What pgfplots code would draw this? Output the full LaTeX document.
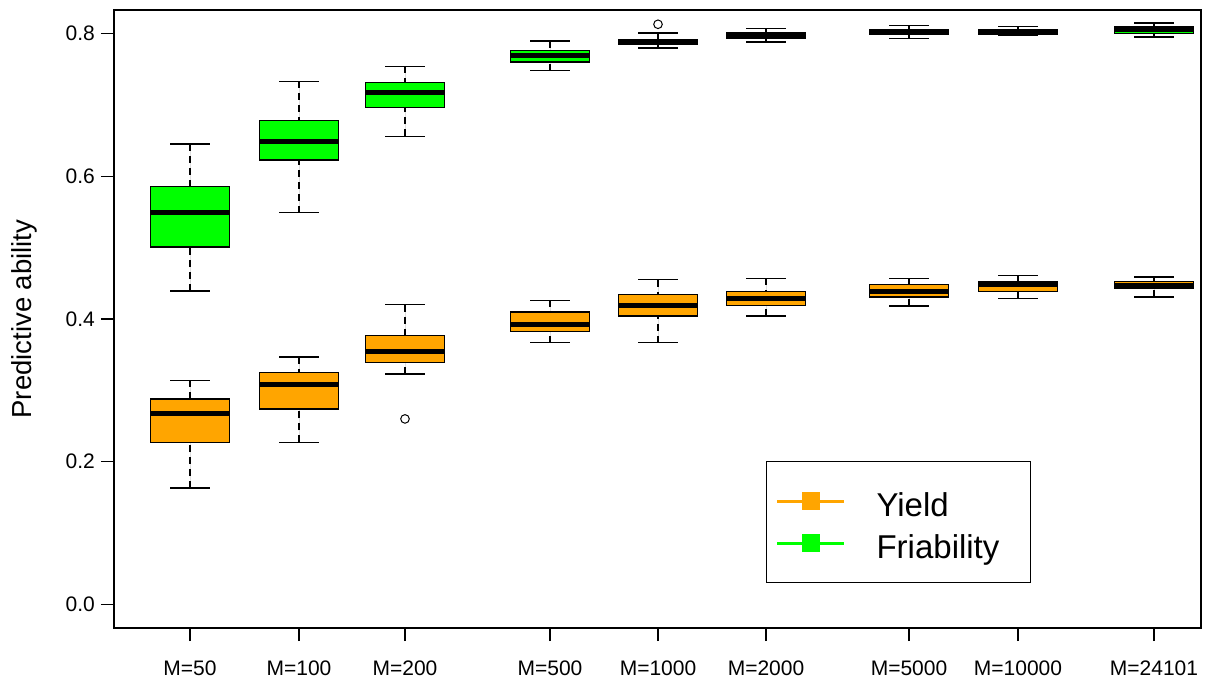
\documentclass[border=0pt]{standalone}
\usepackage{pgfplots}
\pgfplotsset{compat=1.18}
\usepgfplotslibrary{statistics}
\usepackage{fontspec}
\setmainfont{Liberation Sans}
\definecolor{rorange}{HTML}{FFA500}
\definecolor{rgreen}{HTML}{00FF00}
\pgfplotsset{
  boxplot/draw/lower whisker/.code={%
    \draw[black, line width=1.3bp, dash pattern=on 7bp off 5bp]
      (boxplot box cs:\pgfplotsboxplotvalue{lower whisker},0.5) --
      (boxplot box cs:\pgfplotsboxplotvalue{lower quartile},0.5);
    \draw[black, line width=1.4bp, solid]
      (boxplot whisker cs:\pgfplotsboxplotvalue{lower whisker},0) --
      (boxplot whisker cs:\pgfplotsboxplotvalue{lower whisker},1);
  },
  boxplot/draw/upper whisker/.code={%
    \draw[black, line width=1.3bp, dash pattern=on 7bp off 5bp]
      (boxplot box cs:\pgfplotsboxplotvalue{upper whisker},0.5) --
      (boxplot box cs:\pgfplotsboxplotvalue{upper quartile},0.5);
    \draw[black, line width=1.4bp, solid]
      (boxplot whisker cs:\pgfplotsboxplotvalue{upper whisker},0) --
      (boxplot whisker cs:\pgfplotsboxplotvalue{upper whisker},1);
  },
  rbox/.style={
    boxplot/draw direction=y,
    boxplot/box extend=0.79,
    boxplot/whisker extend=0.395,
    draw=black, line width=1.3bp, solid, fill=#1,
    mark=o, mark size=4.3bp, mark options={black, line width=1bp, solid, fill=none},
    forget plot,
    boxplot/every median/.style={line width=5bp, black},
  },
}
\begin{document}
\begin{tikzpicture}
\begin{axis}[
  name=ax,
  scale only axis, width=1087bp, height=618bp,
  xmin=1.14, xmax=12.01, ymin=-0.033, ymax=0.833,
  axis line style={line width=1.3bp, black},
  tick align=outside, tick pos=left,
  major tick length=13bp,
  every tick/.style={black, line width=1.3bp},
  xtick={1.90,2.99,4.05,5.50,6.58,7.66,9.09,10.18,11.54},
  xticklabels={M=50,M=100,M=200,M=500,M=1000,M=2000,M=5000,M=10000,M=24101},
  ytick={0,0.2,0.4,0.6,0.8},
  yticklabels={0.0,0.2,0.4,0.6,0.8},
  ticklabel style={font=\fontsize{21bp}{25bp}\selectfont, inner sep=0pt},
  xticklabel style={anchor=north, yshift=-20bp},
  yticklabel style={anchor=east, xshift=-6bp},
  ylabel={Predictive ability},
  every axis y label/.style={at={(rel axis cs:0,0.5)}, xshift=-82bp, rotate=90, anchor=base, inner sep=0pt, font=\fontsize{27.5bp}{32bp}\selectfont},
  legend image code/.code={\draw[mark repeat=2, mark phase=2, #1] plot coordinates {(0bp,0bp) (33.5bp,0bp) (67bp,0bp)};},
  legend cell align=left,
  legend style={
    at={(0.5998,0.2702)}, anchor=north west,
    draw=black, line width=1.2bp, fill=white,
    inner xsep=9bp, inner ysep=18.5bp,
    font=\fontsize{33bp}{40bp}\selectfont,
    row sep=0pt,
    nodes={inner sep=0pt, text height=36bp, text depth=6bp},
    /tikz/every odd column/.append style={column sep=31bp},
  },
]
% Yield
\addplot[rbox=rorange, boxplot prepared={draw position=1.90, lower whisker=0.163, lower quartile=0.227, median=0.268, upper quartile=0.288, upper whisker=0.314}] coordinates {};
\addplot[rbox=rorange, boxplot prepared={draw position=2.99, lower whisker=0.227, lower quartile=0.274, median=0.308, upper quartile=0.325, upper whisker=0.347}] coordinates {};
\addplot[rbox=rorange, boxplot prepared={draw position=4.05, lower whisker=0.323, lower quartile=0.339, median=0.355, upper quartile=0.377, upper whisker=0.420}] coordinates {(4.05,0.260)};
\addplot[rbox=rorange, boxplot prepared={draw position=5.50, lower whisker=0.367, lower quartile=0.382, median=0.392, upper quartile=0.410, upper whisker=0.426}] coordinates {};
\addplot[rbox=rorange, boxplot prepared={draw position=6.58, lower whisker=0.367, lower quartile=0.404, median=0.419, upper quartile=0.434, upper whisker=0.455}] coordinates {};
\addplot[rbox=rorange, boxplot prepared={draw position=7.66, lower whisker=0.404, lower quartile=0.419, median=0.429, upper quartile=0.439, upper whisker=0.457}] coordinates {};
\addplot[rbox=rorange, boxplot prepared={draw position=9.09, lower whisker=0.418, lower quartile=0.431, median=0.439, upper quartile=0.448, upper whisker=0.457}] coordinates {};
\addplot[rbox=rorange, boxplot prepared={draw position=10.18, lower whisker=0.429, lower quartile=0.439, median=0.448, upper quartile=0.453, upper whisker=0.461}] coordinates {};
\addplot[rbox=rorange, boxplot prepared={draw position=11.54, lower whisker=0.431, lower quartile=0.4425, median=0.447, upper quartile=0.453, upper whisker=0.459}] coordinates {};
% Friability
\addplot[rbox=rgreen, boxplot prepared={draw position=1.90, lower whisker=0.439, lower quartile=0.501, median=0.549, upper quartile=0.586, upper whisker=0.645}] coordinates {};
\addplot[rbox=rgreen, boxplot prepared={draw position=2.99, lower whisker=0.549, lower quartile=0.623, median=0.649, upper quartile=0.678, upper whisker=0.733}] coordinates {};
\addplot[rbox=rgreen, boxplot prepared={draw position=4.05, lower whisker=0.656, lower quartile=0.696, median=0.717, upper quartile=0.731, upper whisker=0.754}] coordinates {};
\addplot[rbox=rgreen, boxplot prepared={draw position=5.50, lower whisker=0.748, lower quartile=0.760, median=0.7695, upper quartile=0.776, upper whisker=0.7895}] coordinates {};
\addplot[rbox=rgreen, boxplot prepared={draw position=6.58, lower whisker=0.780, lower quartile=0.785, median=0.788, upper quartile=0.792, upper whisker=0.801}] coordinates {(6.58,0.813)};
\addplot[rbox=rgreen, boxplot prepared={draw position=7.66, lower whisker=0.788, lower quartile=0.793, median=0.797, upper quartile=0.801, upper whisker=0.807}] coordinates {};
\addplot[rbox=rgreen, boxplot prepared={draw position=9.09, lower whisker=0.793, lower quartile=0.7995, median=0.8025, upper quartile=0.8055, upper whisker=0.8115}] coordinates {};
\addplot[rbox=rgreen, boxplot prepared={draw position=10.18, lower whisker=0.798, lower quartile=0.7985, median=0.802, upper quartile=0.8055, upper whisker=0.8095}] coordinates {};
\addplot[rbox=rgreen, boxplot prepared={draw position=11.54, lower whisker=0.795, lower quartile=0.8005, median=0.805, upper quartile=0.8095, upper whisker=0.815}] coordinates {};
% legend
\addlegendimage{color=rorange, line width=3bp, mark=square*, mark size=7.5bp, mark options={solid}}
\addlegendentry{Yield}
\addlegendimage{color=rgreen, line width=3bp, mark=square*, mark size=7.5bp, mark options={solid}}
\addlegendentry{Friability\hspace*{22bp}}
\end{axis}
\path ([shift={(-114bp,-52bp)}]ax.south west) rectangle ([shift={(6bp,10bp)}]ax.north east);
\end{tikzpicture}
\end{document}
